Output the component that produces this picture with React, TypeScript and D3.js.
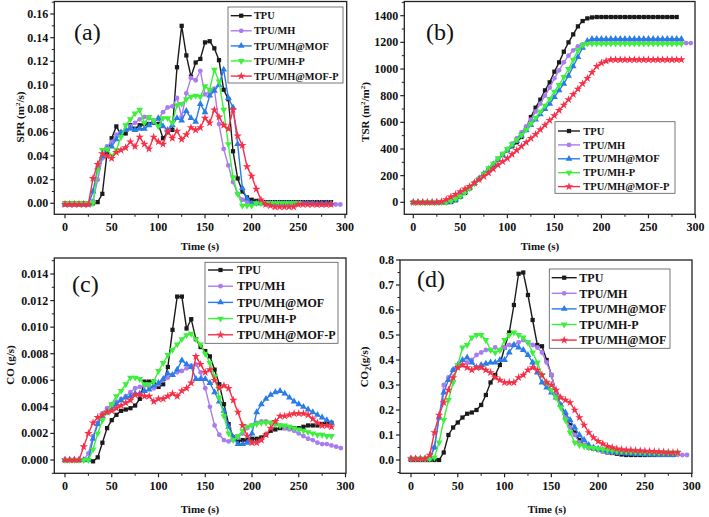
import React from "react";
import * as d3 from "d3";

// ---------- data (sampled every 5 s) ----------
const STEP = 5;
const seriesNames = ["TPU", "TPU/MH", "TPU/MH@MOF", "TPU/MH-P", "TPU/MH@MOF-P"];
const seriesNamesD = ["TPU", "TPU/MH", "TPU/MH@MOF", "TPU/MH-P", "TPU/MH@MOF"];

// (a) SPR (m2/s)
const sprTPU = [0,0,0,0,0,0,0,0.001,0.008,0.042,0.055,0.065,0.058,0.059,0.066,0.063,0.066,0.067,0.067,0.068,0.067,0.055,0.060,0.062,0.115,0.150,0.125,0.107,0.119,0.122,0.136,0.137,0.131,0.121,0.096,0.088,0.044,0.021,0.010,0.005,0.003,0.002,0.001,0.001,0.001,0.001,0.001,0.001,0.001,0.001,0.001,0.001,0.001,0.001,0.001,0.001,0.001,0.001];
const sprMH = [-0.001,-0.001,-0.001,-0.001,-0.001,-0.001,0.002,0.020,0.038,0.048,0.052,0.058,0.060,0.062,0.065,0.068,0.071,0.073,0.072,0.070,0.071,0.077,0.081,0.082,0.089,0.073,0.093,0.106,0.104,0.112,0.092,0.094,0.097,0.067,0.046,0.032,0.018,0.008,0.003,0.001,0,0,0,0,0,0,0,0,0,0,0,0,0,0,-0.001,-0.001,-0.001,-0.001,-0.001,-0.001];
const sprMOF = [-0.001,-0.001,-0.001,-0.001,-0.001,-0.001,0.010,0.030,0.040,0.046,0.048,0.054,0.060,0.062,0.063,0.062,0.063,0.063,0.066,0.068,0.072,0.065,0.062,0.066,0.072,0.070,0.078,0.072,0.069,0.084,0.077,0.091,0.095,0.100,0.113,0.089,0.081,0.050,0.013,0.004,0,0,0,0,0,0,0,0,0,0,0,0,0,0,0,0,0,0];
const sprMHP = [0,0,0,0,0,0,0,0.028,0.045,0.046,0.040,0.045,0.056,0.066,0.071,0.076,0.079,0.068,0.073,0.070,0.065,0.072,0.072,0.068,0.083,0.084,0.088,0.090,0.091,0.090,0.099,0.096,0.113,0.103,0.079,0.050,0.022,0.008,-0.002,-0.002,-0.002,0,0,0,0,0,0,0,0,0,0];
const sprMOFP = [-0.001,-0.001,-0.001,-0.001,-0.001,-0.001,0.021,0.033,0.042,0.040,0.038,0.043,0.045,0.047,0.052,0.048,0.056,0.050,0.046,0.056,0.052,0.050,0.061,0.055,0.061,0.054,0.058,0.064,0.062,0.064,0.072,0.068,0.079,0.073,0.066,0.063,0.079,0.057,0.049,0.031,0.023,0.012,0.003,-0.001,-0.002,-0.003,-0.003,-0.003,-0.003,-0.003,-0.001,-0.001,-0.001,-0.001,-0.001,-0.001,-0.001,-0.001];

// (b) TSR (m2/m2)
const tsrTPU = [0,0,0,0,0,0,0,0,2,15,40,70,105,140,175,210,245,280,320,355,390,420,450,490,560,640,710,770,840,900,980,1050,1130,1200,1260,1320,1360,1380,1387,1390,1390,1390,1390,1390,1390,1390,1390,1390,1390,1390,1390,1390,1390,1390,1390,1390,1390];
const tsrMH = [0,0,0,0,0,0,0,5,15,30,50,80,110,140,175,210,245,285,320,360,400,440,480,525,570,620,680,740,800,860,930,990,1050,1100,1140,1170,1185,1190,1195,1195,1195,1195,1195,1195,1195,1195,1195,1195,1195,1195,1195,1195,1195,1195,1195,1195,1195,1195,1195,1195];
const tsrMOF = [0,0,0,0,0,0,0,0,5,20,45,75,110,145,180,215,250,285,320,355,390,425,460,500,540,580,620,660,700,740,790,840,890,950,1020,1090,1160,1210,1225,1225,1225,1225,1225,1225,1225,1225,1225,1225,1225,1225,1225,1225,1225,1225,1225,1225,1225,1225];
const tsrMHP = [0,0,0,0,0,0,0,0,10,25,45,75,105,140,175,215,255,290,330,365,400,435,470,505,545,590,635,680,725,775,830,880,940,1000,1070,1140,1180,1190,1190,1190,1190,1190,1190,1190,1190,1190,1190,1190,1190,1190,1190,1190,1190,1190,1190,1190,1190,1190];
const tsrMOFP = [0,0,0,0,0,0,5,20,40,60,80,100,120,145,170,195,220,250,280,305,330,360,390,420,450,480,510,545,580,615,650,690,730,770,810,850,890,930,975,1020,1045,1060,1070,1070,1070,1070,1070,1070,1070,1070,1070,1070,1070,1070,1070,1070,1070,1070];

// (c) CO (g/s)
const coTPU = [0,0,0,0,0,0,-0.0001,0.0002,0.0013,0.0024,0.0030,0.0034,0.0037,0.0038,0.0039,0.0041,0.0046,0.0059,0.0059,0.0059,0.0055,0.0057,0.0070,0.0098,0.0123,0.0123,0.0099,0.0106,0.0091,0.0085,0.0082,0.0078,0.0068,0.0057,0.0042,0.0027,0.0017,0.0014,0.0015,0.0015,0.0016,0.0016,0.0017,0.0019,0.0022,0.0023,0.0024,0.0024,0.0024,0.0024,0.0024,0.0025,0.0026,0.0026,0.0026,0.0027,0.0028,0.0028];
const coMH = [0,0,0,0,0,0.0005,0.0018,0.0028,0.0035,0.0039,0.0042,0.0044,0.0046,0.0048,0.0051,0.0054,0.0055,0.0056,0.0055,0.0054,0.0057,0.0060,0.0062,0.0064,0.0066,0.0067,0.0069,0.0071,0.0072,0.0066,0.0054,0.0040,0.0026,0.0019,0.0015,0.0014,0.0015,0.0017,0.0020,0.0024,0.0026,0.0028,0.0029,0.0029,0.0028,0.0027,0.0026,0.0024,0.0023,0.0022,0.0020,0.0018,0.0016,0.0015,0.0013,0.0012,0.0012,0.0011,0.0010,0.0009];
const coMOF = [0,0,0,0,0,0,0.0016,0.0027,0.0033,0.0036,0.0038,0.0042,0.0045,0.0047,0.0048,0.0050,0.0050,0.0052,0.0053,0.0056,0.0058,0.0061,0.0065,0.0064,0.0068,0.0075,0.0072,0.0070,0.0061,0.0061,0.0061,0.0058,0.0051,0.0044,0.0037,0.0025,0.0017,0.0012,0.0012,0.0013,0.0020,0.0036,0.0042,0.0046,0.0049,0.0051,0.0052,0.0050,0.0047,0.0044,0.0042,0.0040,0.0038,0.0036,0.0034,0.0032,0.0030,0.0028];
const coMHP = [0,0,0,0,0,0,0.0008,0.0020,0.0030,0.0036,0.0042,0.0048,0.0052,0.0057,0.0062,0.0062,0.0061,0.0057,0.0057,0.0059,0.0067,0.0073,0.0079,0.0083,0.0087,0.0091,0.0094,0.0095,0.0091,0.0087,0.0080,0.0073,0.0063,0.0047,0.0033,0.0020,0.0015,0.0018,0.0022,0.0025,0.0026,0.0027,0.0028,0.0028,0.0028,0.0027,0.0026,0.0026,0.0025,0.0024,0.0023,0.0022,0.0021,0.0020,0.0019,0.0019,0.0018,0.0018];
const coMOFP = [0,0,0,0,0.0010,0.0020,0.0028,0.0032,0.0034,0.0036,0.0037,0.0039,0.0041,0.0043,0.0045,0.0049,0.0049,0.0048,0.0048,0.0044,0.0046,0.0046,0.0048,0.0050,0.0048,0.0052,0.0054,0.0058,0.0078,0.0072,0.0066,0.0068,0.0060,0.0054,0.0056,0.0054,0.0045,0.0036,0.0026,0.0018,0.0013,0.0013,0.0015,0.0019,0.0024,0.0029,0.0033,0.0033,0.0034,0.0035,0.0035,0.0035,0.0034,0.0031,0.0028,0.0026,0.0026,0.0025];

// (d) CO2 (g/s)
const co2TPU = [0,0,0,0,0,0,0,0.03,0.10,0.13,0.15,0.17,0.185,0.19,0.20,0.22,0.26,0.31,0.34,0.38,0.45,0.51,0.62,0.745,0.75,0.66,0.56,0.46,0.455,0.40,0.34,0.27,0.22,0.18,0.14,0.11,0.08,0.06,0.05,0.045,0.04,0.035,0.03,0.028,0.025,0.022,0.02,0.02,0.02,0.02,0.02,0.02,0.02,0.02,0.02,0.02,0.02];
const co2MH = [0.005,0.005,0.005,0.005,0.005,0.05,0.17,0.30,0.33,0.36,0.37,0.38,0.39,0.40,0.42,0.43,0.44,0.44,0.45,0.44,0.45,0.46,0.46,0.47,0.48,0.47,0.46,0.45,0.43,0.39,0.34,0.27,0.22,0.17,0.13,0.10,0.07,0.06,0.05,0.045,0.04,0.035,0.03,0.03,0.03,0.03,0.028,0.028,0.027,0.026,0.025,0.025,0.024,0.023,0.022,0.022,0.021,0.021,0.02,0.02];
const co2MOF = [0.005,0.005,0.005,0.005,0.005,0.05,0.17,0.27,0.32,0.36,0.38,0.40,0.41,0.39,0.37,0.38,0.385,0.39,0.39,0.40,0.40,0.43,0.46,0.45,0.44,0.42,0.39,0.35,0.31,0.29,0.27,0.25,0.22,0.19,0.16,0.13,0.10,0.08,0.06,0.05,0.045,0.04,0.035,0.032,0.03,0.028,0.027,0.026,0.025,0.024,0.023,0.022,0.022,0.021,0.021,0.02,0.02];
const co2MHP = [0.005,0.005,0.005,0.005,0.005,0.01,0.07,0.16,0.24,0.31,0.38,0.45,0.46,0.49,0.50,0.50,0.48,0.44,0.43,0.44,0.48,0.50,0.51,0.50,0.49,0.47,0.43,0.39,0.34,0.31,0.28,0.25,0.21,0.16,0.11,0.07,0.06,0.055,0.05,0.048,0.045,0.043,0.04,0.038,0.036,0.035,0.034,0.033,0.032,0.032,0.031,0.031,0.03,0.03,0.03,0.03,0.03,0.03];
const co2MOFP = [0.005,0.005,0.005,0.005,0.02,0.11,0.18,0.23,0.28,0.33,0.37,0.38,0.37,0.36,0.37,0.37,0.36,0.35,0.33,0.32,0.31,0.31,0.31,0.33,0.34,0.36,0.37,0.36,0.34,0.31,0.30,0.28,0.25,0.24,0.23,0.20,0.17,0.14,0.11,0.09,0.075,0.065,0.055,0.05,0.045,0.042,0.04,0.04,0.038,0.037,0.036,0.035,0.034,0.033,0.032,0.031,0.03,0.03];

// tick labels
const xTicks = [0, 50, 100, 150, 200, 250, 300];
const yTicksA = [0, 0.02, 0.04, 0.06, 0.08, 0.1, 0.12, 0.14, 0.16];
const yTicksB = [0, 200, 400, 600, 800, 1000, 1200, 1400];
const yTicksC = [0, 0.002, 0.004, 0.006, 0.008, 0.01, 0.012, 0.014];
const yTicksD = [0, 0.1, 0.2, 0.3, 0.4, 0.5, 0.6, 0.7, 0.8];

// ---------- styling ----------
const COLORS = ["#1a1a1a", "#a97cf0", "#2a7ce8", "#3cf03c", "#f53048"];
const SYMBOLS = [d3.symbolSquare, d3.symbolCircle, d3.symbolTriangle, d3.symbolTriangle, d3.symbolStar];
const SYM_SIZE = [18, 18, 20, 20, 22];
const SYM_ROT = [0, 0, 0, 180, 0];
const FONT = "'Liberation Serif', 'Times New Roman', serif";

type Frame = { l: number; r: number; t: number; b: number };
type Legend = { x: number; y: number; w: number; h: number; y0: number; dy: number; lx0: number; lx1: number; tx: number; fs: number };

type PanelProps = {
  frame: Frame;
  xCal: [number, number];
  yCal: [number, number];
  yDomCal: [number, number];
  yTicks: number[];
  yFmt: (v: number) => string;
  data: number[][];
  names: string[];
  legend: Legend;
  letter: string;
  letterPos: [number, number];
  xTitlePos: [number, number];
  yTitlePos: [number, number];
  yTitle: React.ReactNode;
};

function Marker({ i, x, y }: { i: number; x: number; y: number }) {
  const p = d3.symbol().type(SYMBOLS[i]).size(SYM_SIZE[i])() as string;
  return <path d={p} transform={`translate(${x},${y}) rotate(${SYM_ROT[i]})`} fill={COLORS[i]} stroke="none" />;
}

function Panel(props: PanelProps) {
  const { frame, xCal, yCal, yDomCal, yTicks, yFmt, data, names, legend } = props;
  const x = d3.scaleLinear().domain([0, 300]).range(xCal);
  const y = d3.scaleLinear().domain(yDomCal).range(yCal);
  const line = d3
    .line<number>()
    .x((_, j) => x(j * STEP))
    .y((v) => y(v));

  const xMinor = d3.range(0, 301, 25).filter((t) => x(t) >= frame.l && x(t) <= frame.r && t % 50 !== 0);
  const yStep = yTicks[1] - yTicks[0];
  const yMinor = d3
    .range(-1, yTicks.length + 1)
    .map((k) => yTicks[0] + (k + 0.5) * yStep)
    .filter((v) => y(v) <= frame.b && y(v) >= frame.t);

  return (
    <g>
      {data.map((vals, i) => (
        <g key={i}>
          <path d={line(vals) as string} fill="none" stroke={COLORS[i]} strokeWidth={1.4} />
          {vals.map((v, j) => (
            <Marker key={j} i={i} x={x(j * STEP)} y={y(v)} />
          ))}
        </g>
      ))}
      <rect x={frame.l} y={frame.t} width={frame.r - frame.l} height={frame.b - frame.t} fill="none" stroke="#222" strokeWidth={1.3} />
      {xTicks.map((t) => (
        <g key={t}>
          <line x1={x(t)} x2={x(t)} y1={frame.b} y2={frame.b + 4} stroke="#222" strokeWidth={1.2} />
          <text x={x(t)} y={frame.b + 17} textAnchor="middle" fontFamily={FONT} fontWeight="bold" fontSize={12} fill="#111">
            {t}
          </text>
        </g>
      ))}
      {xMinor.map((t) => (
        <line key={"m" + t} x1={x(t)} x2={x(t)} y1={frame.b} y2={frame.b + 2.5} stroke="#222" strokeWidth={1} />
      ))}
      {yTicks.map((v) => (
        <g key={v}>
          <line x1={frame.l - 4} x2={frame.l} y1={y(v)} y2={y(v)} stroke="#222" strokeWidth={1.2} />
          <text x={frame.l - 6} y={y(v) + 4} textAnchor="end" fontFamily={FONT} fontWeight="bold" fontSize={12} fill="#111">
            {yFmt(v)}
          </text>
        </g>
      ))}
      {yMinor.map((v, k) => (
        <line key={"ym" + k} x1={frame.l - 2.5} x2={frame.l} y1={y(v)} y2={y(v)} stroke="#222" strokeWidth={1} />
      ))}
      <text x={props.xTitlePos[0]} y={props.xTitlePos[1]} textAnchor="middle" fontFamily={FONT} fontWeight="bold" fontSize={11} fill="#111">
        Time (s)
      </text>
      <text
        transform={`translate(${props.yTitlePos[0]},${props.yTitlePos[1]}) rotate(-90)`}
        textAnchor="middle"
        fontFamily={FONT}
        fontWeight="bold"
        fontSize={11}
        fill="#111"
      >
        {props.yTitle}
      </text>
      <text x={props.letterPos[0]} y={props.letterPos[1]} fontFamily={FONT} fontSize={24} fill="#111">
        {props.letter}
      </text>
      <rect x={legend.x} y={legend.y} width={legend.w} height={legend.h} fill="#fff" stroke="#555" strokeWidth={0.8} />
      {names.map((n, i) => {
        const yy = legend.y0 + i * legend.dy;
        return (
          <g key={n + i}>
            <line x1={legend.lx0} x2={legend.lx1} y1={yy} y2={yy} stroke={COLORS[i]} strokeWidth={1.4} />
            <Marker i={i} x={(legend.lx0 + legend.lx1) / 2} y={yy} />
            <text x={legend.tx} y={yy + legend.fs * 0.35} fontFamily={FONT} fontWeight="bold" fontSize={legend.fs} fill="#111">
              {n}
            </text>
          </g>
        );
      })}
    </g>
  );
}

export default function App() {
  return (
    <svg width={709} height={517} style={{ position: "absolute", left: 0, top: 0, background: "#fff" }}>
      <rect width={709} height={517} fill="#fff" />
      <Panel
        frame={{ l: 54.3, r: 346.7, t: 1.5, b: 214.3 }}
        xCal={[65, 345]}
        yCal={[203.3, 14]}
        yDomCal={[0, 0.16]}
        yTicks={yTicksA}
        yFmt={d3.format(".2f")}
        data={[sprTPU, sprMH, sprMOF, sprMHP, sprMOFP]}
        names={seriesNames}
        legend={{ x: 228, y: 7, w: 115, h: 76, y0: 15.7, dy: 15.1, lx0: 230.7, lx1: 251.7, tx: 254, fs: 10.3 }}
        letter="(a)"
        letterPos={[74, 40]}
        xTitlePos={[200, 250]}
        yTitlePos={[24, 117]}
        yTitle={<>SPR (m<tspan fontSize={7} dy={-4}>2</tspan><tspan dy={4}>/s)</tspan></>}
      />
      <Panel
        frame={{ l: 404.3, r: 695, t: 1.5, b: 214.3 }}
        xCal={[413.3, 695.5]}
        yCal={[202.3, 15.7]}
        yDomCal={[0, 1400]}
        yTicks={yTicksB}
        yFmt={d3.format("d")}
        data={[tsrTPU, tsrMH, tsrMOF, tsrMHP, tsrMOFP]}
        names={seriesNames}
        legend={{ x: 555, y: 121.7, w: 120, h: 71.6, y0: 131, dy: 13.9, lx0: 558, lx1: 580, tx: 583.3, fs: 10.5 }}
        letter="(b)"
        letterPos={[426, 40]}
        xTitlePos={[540, 250]}
        yTitlePos={[369, 112]}
        yTitle={<>TSR (m<tspan fontSize={7} dy={-4}>2</tspan><tspan dy={4}>/m</tspan><tspan fontSize={7} dy={-4}>2</tspan><tspan dy={4}>)</tspan></>}
      />
      <Panel
        frame={{ l: 54.3, r: 346, t: 258, b: 473.3 }}
        xCal={[65, 345.5]}
        yCal={[460, 274]}
        yDomCal={[0, 0.014]}
        yTicks={yTicksC}
        yFmt={d3.format(".3f")}
        data={[coTPU, coMH, coMOF, coMHP, coMOFP]}
        names={seriesNames}
        legend={{ x: 205, y: 262.3, w: 133, h: 81, y0: 270, dy: 16.2, lx0: 208, lx1: 233, tx: 237, fs: 12 }}
        letter="(c)"
        letterPos={[72, 292]}
        xTitlePos={[200, 513]}
        yTitlePos={[14, 365]}
        yTitle={<>CO (g/s)</>}
      />
      <Panel
        frame={{ l: 400, r: 692, t: 260, b: 473.3 }}
        xCal={[411, 691.7]}
        yCal={[460, 260]}
        yDomCal={[0, 0.8]}
        yTicks={yTicksD}
        yFmt={d3.format(".1f")}
        data={[co2TPU, co2MH, co2MOF, co2MHP, co2MOFP]}
        names={seriesNamesD}
        legend={{ x: 549.3, y: 269, w: 120.7, h: 79.3, y0: 277.7, dy: 15.6, lx0: 551.7, lx1: 576.7, tx: 579.3, fs: 12 }}
        letter="(d)"
        letterPos={[417, 287]}
        xTitlePos={[547, 513]}
        yTitlePos={[368, 367]}
        yTitle={<>CO<tspan fontSize={8} dy={3}>2</tspan><tspan dy={-3}>(g/s)</tspan></>}
      />
    </svg>
  );
}
